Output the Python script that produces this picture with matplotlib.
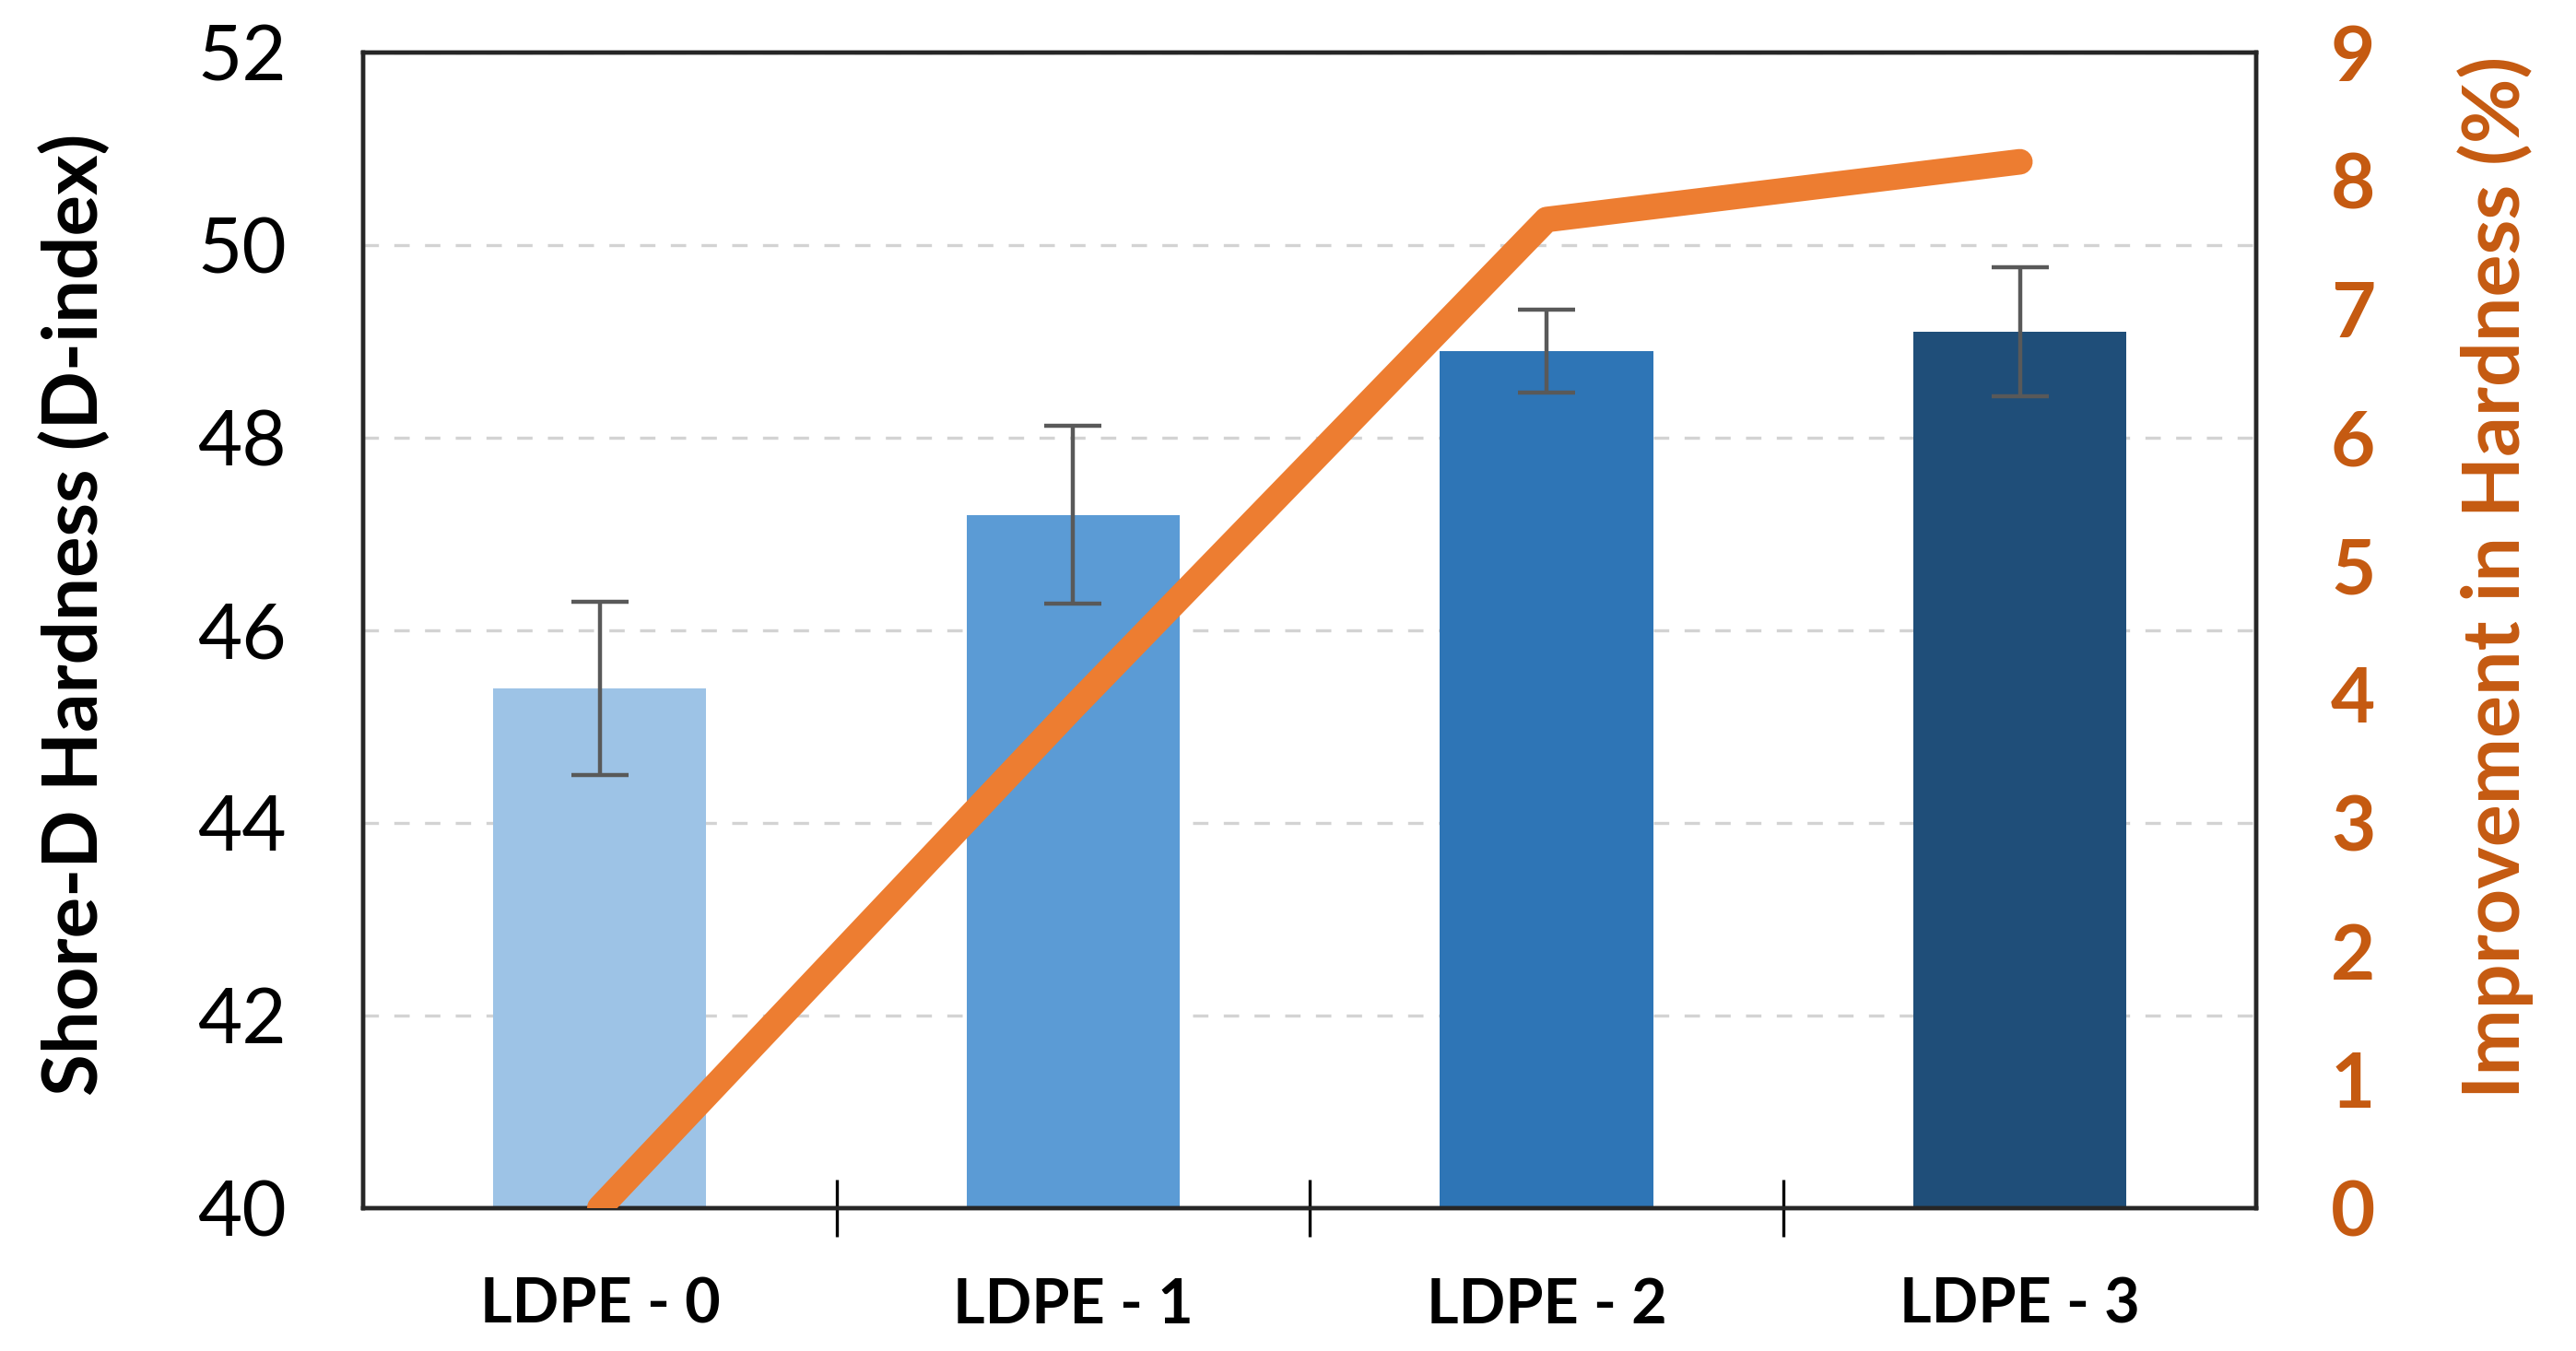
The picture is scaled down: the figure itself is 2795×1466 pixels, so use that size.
import matplotlib
matplotlib.use('Agg')
import matplotlib.pyplot as plt
import numpy as np

plt.rc('font', family=['Lato', 'DejaVu Sans'])

samples = ["LDPE - 0", "LDPE - 1", "LDPE - 2", "LDPE - 3"]
hardness = [45.4, 47.2, 48.9, 49.1]
hardness_err = [0.9, 0.92, 0.43, 0.67]
improvement = [0.0, 3.9, 7.7, 8.15]

bar_colors = ['#9DC3E6', '#5B9BD5', '#2E75B6', '#1F4E79']
orange = '#ED7D31'
dark_orange = '#C55A11'

fig = plt.figure(figsize=(13.975, 7.33), dpi=200)
ax = fig.add_axes([0.141, 0.106, 0.735, 0.855])

x = np.arange(len(samples))
ax.bar(x, hardness, 0.45, color=bar_colors, zorder=2,
       yerr=hardness_err, capsize=11,
       error_kw=dict(ecolor='#595959', elinewidth=1.6, capthick=1.6))

ax.set_ylim(40, 52)
ax.set_xlim(-0.5, 3.5)
ax.set_yticks(np.arange(40, 53, 2))
ax.tick_params(axis='y', length=0, labelsize=30, pad=30)
ax.set_xticks(x)
ax.set_xticklabels(samples, fontsize=24, fontweight='bold')
ax.tick_params(axis='x', length=0, pad=27)
ax.set_xticks([0.5, 1.5, 2.5], minor=True)
ax.tick_params(axis='x', which='minor', direction='inout', length=22, width=1.2)
ax.grid(axis='y', linestyle=(0, (5, 5)), color='#D3D3D3', linewidth=1.2, zorder=0)
ax.set_axisbelow(True)
for s in ax.spines.values():
    s.set_linewidth(1.6)
    s.set_color('#262626')
ax.set_ylabel('Shore-D Hardness (D-index)', fontsize=30, fontweight='bold', labelpad=34)
ax.yaxis.label.set_y(0.514)

ax2 = ax.twinx()
ax2.plot(x, improvement, color=orange, linewidth=10, solid_capstyle='round',
         solid_joinstyle='round', zorder=3)
ax2.set_ylim(0, 9)
ax2.set_yticks(np.arange(0, 10, 1))
ax2.tick_params(axis='y', length=0, labelsize=30, pad=29, labelcolor=dark_orange)
for lbl in ax2.get_yticklabels():
    lbl.set_fontweight('bold')
ax2.set_ylabel('Improvement in Hardness (%)', fontsize=31, fontweight='bold',
               color=dark_orange, labelpad=32)
ax2.yaxis.label.set_y(0.546)
for s in ax2.spines.values():
    s.set_linewidth(1.6)
    s.set_color('#262626')

fig.savefig('out.png', dpi=200)
